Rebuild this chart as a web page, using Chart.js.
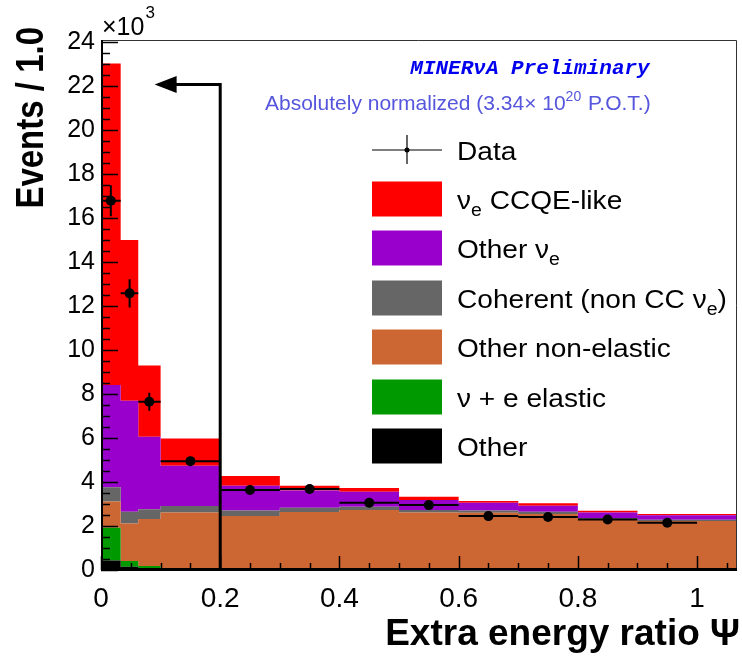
<!DOCTYPE html>
<html><head><meta charset="utf-8">
<script src="https://cdn.jsdelivr.net/npm/chart.js@4.4.1/dist/chart.umd.min.js"></script>
<style>html,body{margin:0;padding:0;background:#fff;}#wrap{position:relative;width:742px;height:656px;}</style>
</head><body><div id="wrap"><canvas id="c" width="742" height="656"></canvas></div>
<script>
// ---- data (units of 10^3 events) ----
const binEdges   = [0, 0.033, 0.0625, 0.1, 0.2, 0.3, 0.4, 0.5, 0.6, 0.7, 0.8, 0.9, 1.0, 1.1];
const otherVals  = [0.43, 0.15, 0.05, 0.02, 0.01, 0.01, 0.01, 0.01, 0.01, 0.01, 0.01, 0.01, 0.01];
const nuEElastic = [1.49, 0.26, 0.13, 0.07, 0.02, 0.01, 0.01, 0.01, 0.01, 0.01, 0.01, 0.01, 0.01];
const otherNonEl = [1.20, 1.71, 2.14, 2.52, 2.42, 2.62, 2.71, 2.59, 2.58, 2.53, 2.28, 2.21, 2.21];
const coherent   = [0.64, 0.53, 0.44, 0.30, 0.25, 0.19, 0.15, 0.12, 0.10, 0.10, 0.07, 0.06, 0.06];
const otherNue   = [4.65, 5.05, 3.30, 1.83, 1.13, 0.78, 0.68, 0.45, 0.36, 0.27, 0.24, 0.20, 0.20];
const ccqeLike   = [14.62, 7.30, 3.24, 1.24, 0.44, 0.22, 0.17, 0.15, 0.08, 0.11, 0.08, 0.06, 0.06];
const dataX      = [0.0165, 0.048, 0.081, 0.15, 0.25, 0.35, 0.45, 0.55, 0.65, 0.75, 0.85, 0.95];
const dataY      = [16.79, 12.58, 7.65, 4.95, 3.64, 3.68, 3.06, 2.95, 2.45, 2.41, 2.30, 2.15];
const dataErr    = [0.70, 0.64, 0.41, 0.20, 0.15, 0.15, 0.12, 0.12, 0.10, 0.10, 0.10, 0.10];
const xTickStep = 0.2, yTickStep = 2;
const cutValue = 0.2, cutArrowY = 22.08, cutArrowTip = 0.09;

const layers = [otherVals, nuEElastic, otherNonEl, coherent, otherNue, ccqeLike];
const layerColors = ['#000000', '#009900', '#cc6633', '#666666', '#9900cc', '#ff0000'];

const FONT = '"Liberation Sans", Arial, Helvetica, sans-serif';

// build cumulative stacked step datasets
const datasets = [];
const running = new Array(otherVals.length).fill(0);
layers.forEach((vals, k) => {
  const pts = [];
  vals.forEach((v, i) => { running[i] += v; pts.push({x: binEdges[i], y: running[i]}); });
  pts.push({x: binEdges[vals.length], y: running[vals.length - 1]});
  datasets.push({type: 'line', data: pts, stepped: true, borderWidth: 0, pointRadius: 0,
    backgroundColor: layerColors[k], fill: k === 0 ? 'origin' : '-1', order: 2});
});
datasets.push({type: 'scatter', data: dataX.map((x, i) => ({x, y: dataY[i]})),
  pointRadius: 5, pointHoverRadius: 5, backgroundColor: '#000', borderWidth: 0, order: 0});

function rich(ctx, x, y, parts) {
  let cx = x;
  parts.forEach(p => {
    ctx.font = (p.w || '') + ' ' + p.s + 'px ' + (p.f || FONT);
    ctx.fillText(p.t, cx, y + (p.dy || 0));
    cx += ctx.measureText(p.t).width;
  });
  return cx;
}

const deco = {
  id: 'deco',
  afterDatasetsDraw(chart) {
    const {ctx, scales: {x, y}} = chart;
    const ca = chart.chartArea;
    ctx.save();
    ctx.beginPath(); ctx.rect(ca.left, ca.top, ca.right - ca.left, ca.bottom - ca.top); ctx.clip();
    // error bars
    ctx.strokeStyle = '#000'; ctx.lineWidth = 2;
    dataX.forEach((dx, i) => {
      const px = x.getPixelForValue(dx), py = y.getPixelForValue(dataY[i]);
      ctx.beginPath();
      ctx.moveTo(x.getPixelForValue(binEdges[i]), py);
      ctx.lineTo(x.getPixelForValue(binEdges[i + 1]), py);
      ctx.moveTo(px, y.getPixelForValue(dataY[i] - dataErr[i]));
      ctx.lineTo(px, y.getPixelForValue(dataY[i] + dataErr[i]));
      ctx.stroke();
    });
    // cut arrow
    const ax = x.getPixelForValue(cutValue), ay = y.getPixelForValue(cutArrowY);
    const tip = x.getPixelForValue(cutArrowTip);
    ctx.lineWidth = 3;
    ctx.beginPath();
    ctx.moveTo(ax, y.getPixelForValue(0)); ctx.lineTo(ax, ay); ctx.lineTo(tip + 20, ay);
    ctx.stroke();
    ctx.fillStyle = '#000';
    ctx.beginPath(); ctx.moveTo(tip, ay); ctx.lineTo(tip + 22, ay - 8.5); ctx.lineTo(tip + 22, ay + 8.5); ctx.closePath(); ctx.fill();
    ctx.restore();
  },
  afterDraw(chart) {
    const {ctx, scales: {x, y}} = chart;
    const ca = chart.chartArea;
    ctx.save();
    // frame
    ctx.strokeStyle = '#333'; ctx.lineWidth = 1;
    ctx.beginPath(); ctx.moveTo(ca.left, ca.top + 0.5); ctx.lineTo(ca.right - 0.5, ca.top + 0.5); ctx.lineTo(ca.right - 0.5, ca.bottom); ctx.stroke();
    ctx.strokeStyle = '#000';
    ctx.lineWidth = 2; ctx.beginPath(); ctx.moveTo(ca.left + 1, ca.top); ctx.lineTo(ca.left + 1, ca.bottom); ctx.stroke();
    ctx.lineWidth = 3; ctx.beginPath(); ctx.moveTo(ca.left, ca.bottom - 0.5); ctx.lineTo(ca.right, ca.bottom - 0.5); ctx.stroke();
    // ticks inside
    ctx.lineWidth = 1.5;
    ctx.beginPath();
    for (let v = 0; v <= x.max + 1e-9; v += 0.05) {
      const px = Math.round(x.getPixelForValue(v)) + 0.5;
      const major = Math.abs(v / xTickStep - Math.round(v / xTickStep)) < 1e-6;
      ctx.moveTo(px, ca.bottom); ctx.lineTo(px, ca.bottom - (major ? 14 : 7));
    }
    for (let v = 0; v <= y.max + 1e-9; v += 0.5) {
      const py = Math.round(y.getPixelForValue(v)) + 0.5;
      const major = Math.abs(v / yTickStep - Math.round(v / yTickStep)) < 1e-6;
      ctx.moveTo(ca.left, py); ctx.lineTo(ca.left + (major ? 17 : 9), py);
    }
    ctx.stroke();

    ctx.fillStyle = '#000'; ctx.textBaseline = 'alphabetic'; ctx.textAlign = 'left';
    // x10^3
    let cx = rich(ctx, 102, 35, [{t: '\u00d710', s: 25}]);
    rich(ctx, cx + 1, 18, [{t: '3', s: 17}]);
    // axis titles
    ctx.save();
    ctx.translate(43, 27); ctx.scale(1.2, 1); ctx.rotate(-Math.PI / 2);
    ctx.textAlign = 'right'; ctx.font = 'bold 33px ' + FONT;
    ctx.fillText('Events / 1.0', 0, 0);
    ctx.restore();
    ctx.save();
    ctx.font = 'bold 37px ' + FONT; ctx.textAlign = 'right';
    ctx.fillText('Extra energy ratio \u03a8', 740, 645);
    ctx.restore();
    // MINERvA label
    ctx.save();
    ctx.fillStyle = '#0000ee'; ctx.textAlign = 'center';
    ctx.font = 'italic bold 21px "Liberation Mono", "Courier New", monospace';
    ctx.fillText('MINER\u03bdA Preliminary', 530, 74);
    ctx.restore();
    ctx.fillStyle = '#5555dd';
    cx = rich(ctx, 265, 110, [{t: 'Absolutely normalized (3.34\u00d7 10', s: 21}]);
    cx = rich(ctx, cx, 101, [{t: '20', s: 14}]);
    rich(ctx, cx + 1, 110, [{t: ' P.O.T.)', s: 21}]);
    // legend
    const lx0 = 372, lx1 = 442, tx = 457;
    const rows = [150, 199, 248, 298, 347, 397, 446];
    ctx.fillStyle = '#000'; ctx.strokeStyle = '#000'; ctx.lineWidth = 1.2;
    ctx.beginPath(); ctx.moveTo(lx0, rows[0]); ctx.lineTo(lx1, rows[0]);
    ctx.moveTo((lx0 + lx1) / 2, rows[0] - 15); ctx.lineTo((lx0 + lx1) / 2, rows[0] + 14); ctx.stroke();
    ctx.beginPath(); ctx.arc((lx0 + lx1) / 2, rows[0], 2.5, 0, Math.PI * 2); ctx.fill();
    const boxCols = ['#ff0000', '#9900cc', '#666666', '#cc6633', '#009900', '#000000'];
    boxCols.forEach((c, i) => { ctx.fillStyle = c; ctx.fillRect(lx0, rows[i + 1] - 17.5, lx1 - lx0, 35); });
    ctx.fillStyle = '#000';
    const fs = 26, sub = 18;
    const labels = [
      [{t: 'Data', s: fs}],
      [{t: '\u03bd', s: fs}, {t: 'e', s: sub, dy: 7}, {t: ' CCQE-like', s: fs}],
      [{t: 'Other \u03bd', s: fs}, {t: 'e', s: sub, dy: 7}],
      [{t: 'Coherent (non CC \u03bd', s: fs}, {t: 'e', s: sub, dy: 7}, {t: ')', s: fs}],
      [{t: 'Other non-elastic', s: fs}],
      [{t: '\u03bd + e elastic', s: fs}],
      [{t: 'Other', s: fs}]
    ];
    labels.forEach((parts, i) => {
      ctx.save(); ctx.translate(tx, rows[i] + 9.5); ctx.scale(1.08, 1);
      rich(ctx, 0, 0, parts); ctx.restore();
    });
    ctx.restore();
  }
};

new Chart(document.getElementById('c'), {
  type: 'line',
  data: {datasets},
  options: {
    responsive: false, animation: false, devicePixelRatio: 1,
    layout: {padding: {top: 40, right: 2, left: 0, bottom: 0}},
    plugins: {legend: {display: false}, tooltip: {enabled: false}},
    elements: {line: {tension: 0}},
    scales: {
      x: {type: 'linear', min: 0, max: 1.067,
        grid: {display: false, drawTicks: false}, border: {display: false},
        ticks: {stepSize: xTickStep, includeBounds: false, maxRotation: 0, autoSkip: false,
          color: '#000', padding: 12, font: {family: FONT, size: 28},
          callback: v => String(Math.round(v * 1000) / 1000)},
        afterFit(s) { s.height = 86; }},
      y: {type: 'linear', min: 0, max: 24.1,
        grid: {display: false, drawTicks: false}, border: {display: false},
        ticks: {stepSize: yTickStep, includeBounds: false, color: '#000', padding: 6,
          font: {family: FONT, size: 25}},
        afterFit(s) { s.width = 101; }}
    }
  },
  plugins: [deco]
});
</script></body></html>
